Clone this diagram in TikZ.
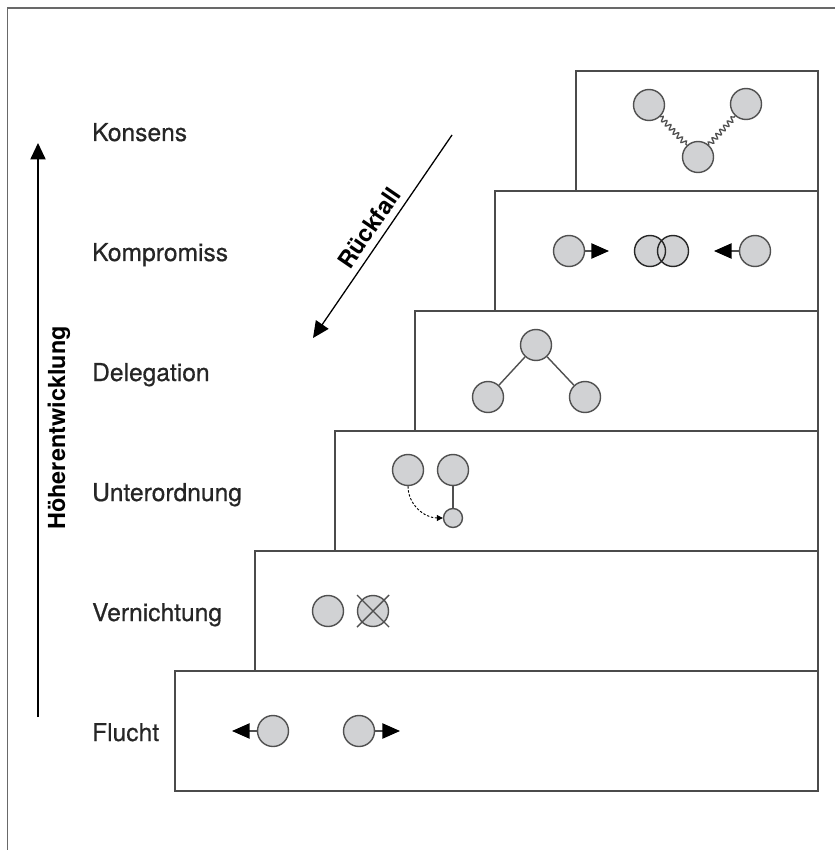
\documentclass[tikz,border=0pt]{standalone}
\usepackage{fontspec}
\setmainfont{TeX Gyre Heros}
\newfontfamily\labfont[FakeBold=0.6]{TeX Gyre Heros}
\usetikzlibrary{positioning, arrows.meta, decorations.pathmorphing}
\definecolor{ballfill}{RGB}{209,210,212}
\definecolor{ballline}{RGB}{80,80,80}
\definecolor{boxline}{RGB}{75,75,75}
\definecolor{frameline}{RGB}{105,105,105}
\tikzset{
  frame/.style={draw=frameline, line width=1.6pt},
  stepbox/.style={draw=boxline, line width=1.3pt},
  lab/.style={anchor=base west, text=black!85, font=\labfont\fontsize{21}{25}\selectfont},
  sidelab/.style={font=\bfseries\fontsize{20}{24}\selectfont},
  ball/.style={circle, draw=ballline, fill=ballfill, line width=1.2pt, minimum size=0.93cm, inner sep=0pt},
  smallball/.style={ball, minimum size=0.57cm},
  ring/.style={circle, draw=black!85, line width=1.2pt, minimum size=0.93cm, inner sep=0pt},
  push/.style={draw=ballline, line width=1.2pt, -{Triangle[length=15pt, width=13pt, color=black]}},
  bigarrow/.style={line width=1.1pt, -{Triangle[length=14pt, width=13pt]}},
  link/.style={draw=ballline, line width=1.2pt},
  wave/.style={draw=ballline, line width=1.1pt, decorate, decoration={snake, segment length=0.17cm, amplitude=0.075cm}},
  dashflow/.style={line width=0.8pt, dash pattern=on 2pt off 1.5pt, -{Triangle[length=5pt, width=5pt]}},
}

\begin{document}
\begin{tikzpicture}[x=0.03cm, y=-0.03cm]
\useasboundingbox (0,0) rectangle (835,850);
\draw[frame] (7.5,850) -- (7.5,8) -- (835,8);

% steps
\draw[stepbox] (175,671) rectangle (818,791);
\draw[stepbox] (255,551) rectangle (818,671);
\draw[stepbox] (335,431) rectangle (818,551);
\draw[stepbox] (415,311) rectangle (818,431);
\draw[stepbox] (495,191) rectangle (818,311);
\draw[stepbox] (576,71) rectangle (818,191);

% labels
\node[lab] at (88,141) (lkons) {Konsens};
\node[lab] at (88,261) (lkomp) {Kompromiss};
\node[lab] at (88,381) (ldele) {Delegation};
\node[lab] at (88,501) (lunte) {Unterordnung};
\node[lab] at (88,621) (lvern) {Vernichtung};
\node[lab] at (88,741) (lfluc) {Flucht};

% Hoeherentwicklung
\coordinate (hbot) at (38,717);
\coordinate (htop) at (38,143);
\draw[bigarrow] (hbot) -- (htop);
\node[sidelab, rotate=90] at (59,428) (hlab) {Höherentwicklung};

% Rueckfall
\coordinate (rtop) at (452,135);
\coordinate (rbot) at (313,338);
\draw[bigarrow] (rtop) -- (rbot);
\node[sidelab, rotate=55.6] at (369,228) (rlab) {Rückfall};

% Konsens
\node[ball] at (649,105) (k1) {};
\node[ball] at (746,104) (k2) {};
\node[ball] at (698,157) (k3) {};
\draw[wave] (k1) -- (k3);
\draw[wave] (k3) -- (k2);

% Kompromiss
\node[ball] at (569,251) (c1) {};
\node[ball] at (755,251) (c2) {};
\node[ball, draw=none] at (650,251) (m1) {};
\node[ball, draw=none] at (673,251) (m2) {};
\node[ring] at (m1) (m1r) {};
\node[ring] at (m2) (m2r) {};
\coordinate (c1t) at (609,251);
\coordinate (c2t) at (714,251);
\draw[push] (c1) -- (c1t);
\draw[push] (c2) -- (c2t);

% Delegation
\node[ball] at (536,345) (d1) {};
\node[ball] at (488,397) (d2) {};
\node[ball] at (585,397) (d3) {};
\draw[link] (d1) -- (d2);
\draw[link] (d1) -- (d3);

% Unterordnung
\node[ball] at (408,470) (u1) {};
\node[ball] at (453,470) (u2) {};
\node[smallball] at (453,518) (u3) {};
\draw[link] (u2) -- (u3);
\draw[dashflow] (u1) to[out=-90, in=180] (u3);

% Vernichtung
\node[ball] at (328,611) (v1) {};
\node[ball] at (373,611) (v2) {};
\draw[link] ([shift={(-16,-16)}]v2.center) -- ([shift={(16,16)}]v2.center);
\draw[link] ([shift={(-16,16)}]v2.center) -- ([shift={(16,-16)}]v2.center);

% Flucht
\node[ball] at (273,731) (f1) {};
\node[ball] at (359,731) (f2) {};
\coordinate (f1t) at (232,731);
\coordinate (f2t) at (400,731);
\draw[push] (f1) -- (f1t);
\draw[push] (f2) -- (f2t);
\end{tikzpicture}
\end{document}
